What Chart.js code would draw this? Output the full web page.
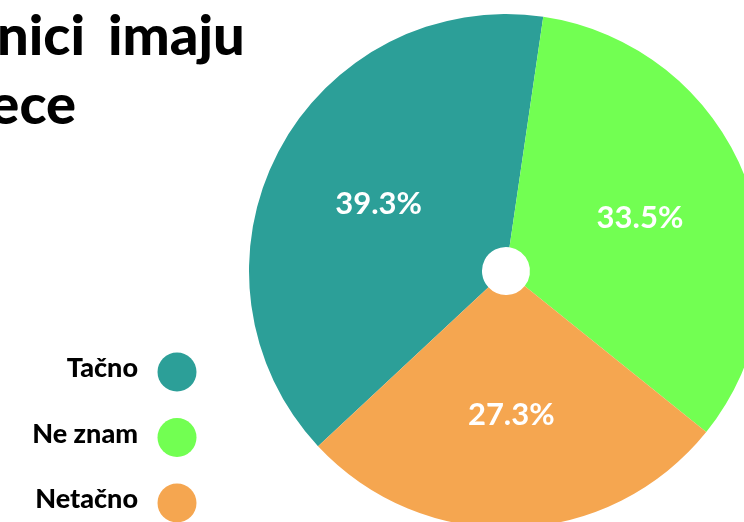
<!DOCTYPE html>
<html>
<head>
<meta charset="utf-8">
<script src="https://cdn.jsdelivr.net/npm/chart.js@4.4.1/dist/chart.umd.min.js"></script>
<style>
  html, body { margin:0; padding:0; width:744px; height:522px; overflow:hidden; background:#fff; }
  #wrap { position:absolute; left:0; top:0; width:800px; height:540px; }
  #title { position:absolute; left:0; top:0; width:744px; height:140px; pointer-events:none; }
  #title text { font-family: Lato, "Open Sans", sans-serif; font-weight:900; font-size:56px; fill:#000; }
</style>
</head>
<body>
<div id="wrap"><canvas id="c" width="800" height="540"></canvas></div>
<svg id="title" width="744" height="140">
  <text x="85" y="55" text-anchor="end">nici</text>
  <text x="108" y="55" text-anchor="start">imaju</text>
  <text x="76" y="124" text-anchor="end">ece</text>
</svg>
<script>
const categories = ["Tačno", "Ne znam", "Netačno"];
const values = [39.3, 33.5, 27.3];
const colors = ["#2C9F98", "#72FF52", "#F5A650"];

const sliceLabels = {
  id: 'sliceLabels',
  afterDatasetsDraw(chart) {
    const ctx = chart.ctx;
    const meta = chart.getDatasetMeta(0);
    ctx.save();
    ctx.font = 'bold 31px Lato, "Open Sans", sans-serif';
    ctx.fillStyle = '#fff';
    ctx.textAlign = 'center';
    ctx.textBaseline = 'middle';
    meta.data.forEach((arc, i) => {
      const p = arc.getProps(['x', 'y', 'startAngle', 'endAngle', 'outerRadius'], true);
      const mid = (p.startAngle + p.endAngle) / 2;
      const r = p.outerRadius * 0.56;
      ctx.fillText(values[i].toFixed(1) + '%', p.x + Math.cos(mid) * r, p.y + Math.sin(mid) * r);
    });
    ctx.restore();
  }
};

const sideLegend = {
  id: 'sideLegend',
  afterDraw(chart) {
    const ctx = chart.ctx;
    ctx.save();
    ctx.font = '900 27px Lato, "Open Sans", sans-serif';
    ctx.textAlign = 'right';
    ctx.textBaseline = 'alphabetic';
    categories.forEach((name, i) => {
      const cy = 372 + i * 65.5;
      ctx.fillStyle = '#000';
      ctx.fillText(name, 138, cy + 5);
      ctx.beginPath();
      ctx.arc(177, cy, 19.5, 0, Math.PI * 2);
      ctx.fillStyle = colors[i];
      ctx.fill();
    });
    ctx.restore();
  }
};

new Chart(document.getElementById('c'), {
  type: 'doughnut',
  data: {
    labels: categories,
    datasets: [{
      data: values,
      backgroundColor: colors,
      borderWidth: 0,
      hoverOffset: 0
    }]
  },
  options: {
    responsive: false,
    animation: false,
    rotation: 227,
    cutout: 24,
    radius: 257,
    layout: { padding: { left: 249, right: 37, top: 14, bottom: 12 } },
    plugins: {
      legend: { display: false },
      tooltip: { enabled: false },
      title: { display: false }
    },
    events: []
  },
  plugins: [sliceLabels, sideLegend]
});
</script>
</body>
</html>
